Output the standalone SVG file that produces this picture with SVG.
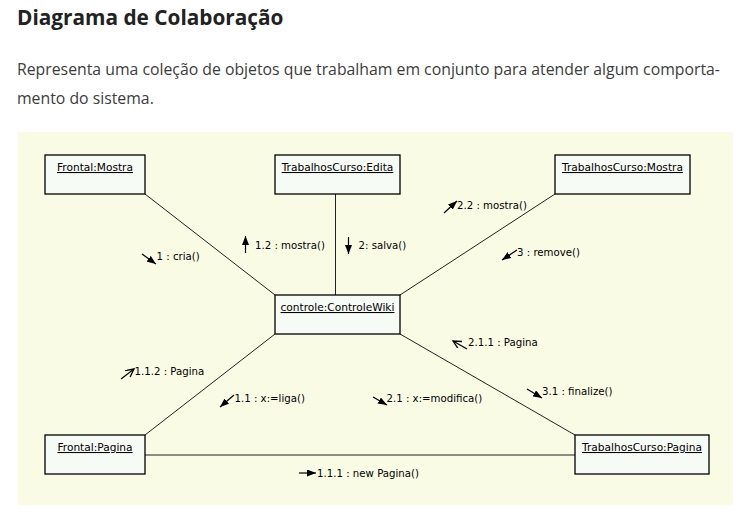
<svg xmlns="http://www.w3.org/2000/svg" width="755" height="519" viewBox="0 0 755 519">
<style>
.title{font-family:"Open Sans","Liberation Sans",sans-serif;font-weight:bold;font-size:20.8px;fill:#222}
.para{font-family:"Open Sans","Liberation Sans",sans-serif;font-size:15.8px;fill:#3c3c3c}
.box{fill:#f7fbf5;stroke:#000;stroke-width:1.3}
.lbl{font-family:"DejaVu Sans",sans-serif;font-size:10.6px;fill:#000;text-anchor:middle;text-decoration:underline}
.msg{font-family:"DejaVu Sans",sans-serif;font-size:10.2px;fill:#000}
.conn{stroke:#222;stroke-width:1;fill:none}
.arr{stroke:#000;stroke-width:1.2;fill:none}
</style>
<defs>
<marker id="mf" markerUnits="userSpaceOnUse" markerWidth="9" markerHeight="7" refX="9" refY="3.5" orient="auto"><path d="M0,0 L9,3.5 L0,7 z" fill="#000"/></marker>
<marker id="mo" markerUnits="userSpaceOnUse" markerWidth="10" markerHeight="10" refX="9" refY="4" orient="auto"><path d="M1,0 L9,4 L1,8" fill="none" stroke="#000" stroke-width="1.3"/></marker>
</defs>
<rect width="755" height="519" fill="#fff"/>
<text class="title" x="17" y="25">Diagrama de Colaboração</text>
<text class="para" x="17" y="75">Representa uma coleção de objetos que trabalham em conjunto para atender algum comporta-</text>
<text class="para" x="17" y="104">mento do sistema.</text>
<rect x="18" y="132" width="715" height="373" fill="#f9fbe5"/>
<g id="connectors">
<line class="conn" x1="145" y1="194" x2="275" y2="295"/>
<line class="conn" x1="335.5" y1="194" x2="335.5" y2="295"/>
<line class="conn" x1="555" y1="194" x2="400" y2="295"/>
<line class="conn" x1="275" y1="334" x2="145" y2="435"/>
<line class="conn" x1="400" y1="334" x2="575" y2="435"/>
<line class="conn" x1="145" y1="455" x2="575" y2="455"/>
</g>
<g id="frontal-mostra"><rect class="box" x="45" y="155" width="100" height="39"/><text class="lbl" x="95" y="171">Frontal:Mostra</text></g>
<g id="tc-edita"><rect class="box" x="275" y="155" width="125" height="39"/><text class="lbl" x="337.5" y="171">TrabalhosCurso:Edita</text></g>
<g id="tc-mostra"><rect class="box" x="555" y="155" width="135" height="39"/><text class="lbl" x="622.5" y="171">TrabalhosCurso:Mostra</text></g>
<g id="controle"><rect class="box" x="275" y="295" width="125" height="39"/><text class="lbl" x="337.5" y="311">controle:ControleWiki</text></g>
<g id="frontal-pagina"><rect class="box" x="45" y="435" width="100" height="39"/><text class="lbl" x="95" y="451">Frontal:Pagina</text></g>
<g id="tc-pagina"><rect class="box" x="575" y="435" width="134" height="39"/><text class="lbl" x="642" y="451">TrabalhosCurso:Pagina</text></g>
<g id="messages">
<line class="arr" x1="142" y1="254" x2="156" y2="264" marker-end="url(#mf)"/>
<text class="msg" x="156.5" y="260">1 : cria()</text>
<line class="arr" x1="245.5" y1="253" x2="245.5" y2="236" marker-end="url(#mf)"/>
<text class="msg" x="255" y="249">1.2 : mostra()</text>
<line class="arr" x1="348.5" y1="237" x2="348.5" y2="254" marker-end="url(#mf)"/>
<text class="msg" x="358.5" y="249">2: salva()</text>
<line class="arr" x1="444" y1="213" x2="457" y2="201" marker-end="url(#mf)"/>
<text class="msg" x="457" y="209">2.2 : mostra()</text>
<line class="arr" x1="517" y1="250" x2="502" y2="260" marker-end="url(#mf)"/>
<text class="msg" x="517" y="256">3 : remove()</text>
<line class="arr" x1="121" y1="379" x2="134" y2="369" marker-end="url(#mo)"/>
<text class="msg" x="134.5" y="375">1.1.2 : Pagina</text>
<line class="arr" x1="234" y1="395" x2="220" y2="407" marker-end="url(#mf)"/>
<text class="msg" x="234.5" y="402">1.1 : x:=liga()</text>
<line class="arr" x1="373" y1="397" x2="387" y2="405" marker-end="url(#mf)"/>
<text class="msg" x="386.5" y="402">2.1 : x:=modifica()</text>
<line class="arr" x1="467" y1="349" x2="453" y2="341" marker-end="url(#mo)"/>
<text class="msg" x="468" y="346">2.1.1 : Pagina</text>
<line class="arr" x1="527" y1="389" x2="542" y2="398" marker-end="url(#mf)"/>
<text class="msg" x="542" y="395">3.1 : finalize()</text>
<line class="arr" x1="299" y1="473" x2="316" y2="473" marker-end="url(#mf)"/>
<text class="msg" x="317" y="477">1.1.1 : new Pagina()</text>
</g>
</svg>
